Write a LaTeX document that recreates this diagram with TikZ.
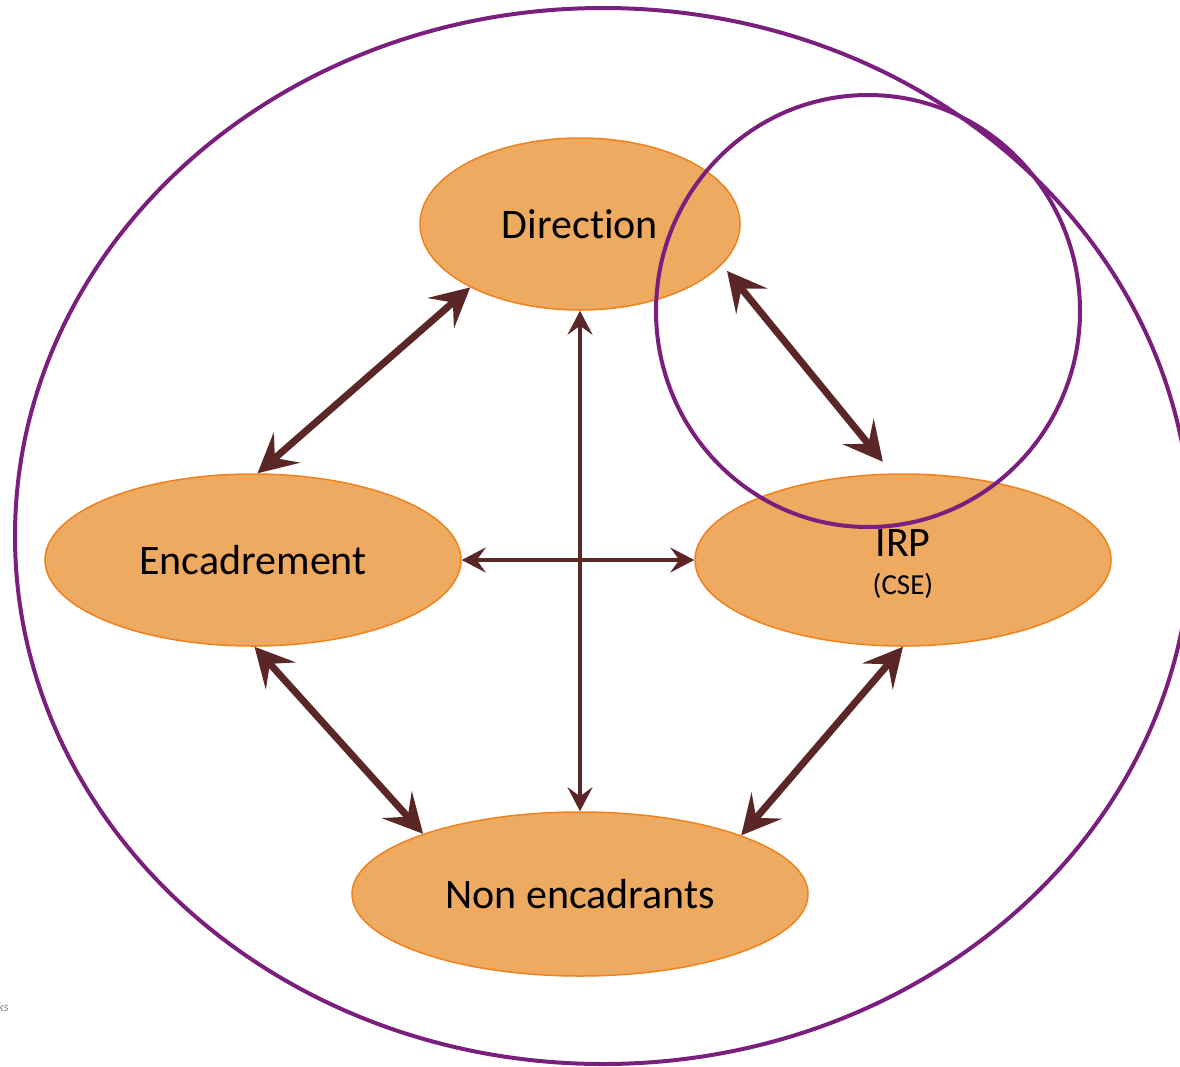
\documentclass[tikz,border=0pt]{standalone}
\usepackage{fontspec}
\setmainfont[Ligatures=NoCommon]{Carlito}
\usetikzlibrary{shapes.geometric,arrows.meta}
\definecolor{boxfill}{HTML}{EEAA60}
\definecolor{boxedge}{HTML}{F0821E}
\definecolor{ring}{HTML}{7A1F7E}
\definecolor{arr}{HTML}{5A2626}
\tikzset{
  bubble/.style={ellipse, draw=boxedge, fill=boxfill, line width=1.5pt, inner sep=0pt,
                 font=\fontsize{42}{46}\selectfont, text=black},
  ringline/.style={draw=ring, line width=4pt},
  bigarrow/.style={draw=arr, line width=7pt,
     {Stealth[length=39pt,width=40pt,inset=16pt]}-{Stealth[length=39pt,width=40pt,inset=16pt]}},
  thinarrow/.style={draw=arr, line width=3.5pt,
     {Stealth[length=24pt,width=25pt,inset=9pt]}-{Stealth[length=24pt,width=25pt,inset=9pt]}},
}
\begin{document}
\begin{tikzpicture}[x=1pt,y=-1pt]
\useasboundingbox (0,0) rectangle (1180,1066);
\clip (0,0) rectangle (1180,1066);
\fill[white] (0,0) rectangle (1180,1066);

% ellipse nodes
\node[bubble, minimum width=320pt, minimum height=172pt] (dir) at (580,224) {Direction};
\node[bubble, minimum width=416pt, minimum height=172pt] (enc) at (253,560) {Encadrement};
\node[bubble, minimum width=416pt, minimum height=172pt] (irp) at (903,560) {};
\node[bubble, minimum width=456pt, minimum height=164pt] (non) at (580,894) {Non encadrants};
\node[font=\fontsize{42}{46}\selectfont, inner sep=0pt] (irpt) at (903,543) {IRP};
\node[font=\fontsize{29}{31}\selectfont, inner sep=0pt] (cse) at (903,586) {(CSE)};

% purple rings
\draw[ringline] (603,536) ellipse [x radius=588, y radius=528];
\draw[ringline] (868,311) ellipse [x radius=212, y radius=216];

% connectors
\draw[bigarrow] (dir.210) -- (enc.87);
\draw[bigarrow, shorten <=8pt, shorten >=15pt] (dir.-16) -- (irp.97);
\draw[bigarrow] (enc.-89) -- (non.159);
\draw[bigarrow] (irp.-90) -- (non.20);
\draw[thinarrow] (dir.south) -- (non.north);
\draw[thinarrow] (enc.east) -- (irp.west);

% cropped fragment
\node[font=\itshape\fontsize{13}{14}\selectfont, text=gray, anchor=east, inner sep=0pt] (frag) at (9,1007) {ks};
\end{tikzpicture}
\end{document}
